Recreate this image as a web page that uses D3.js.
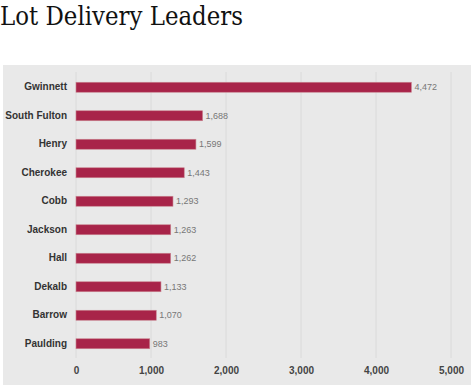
<!DOCTYPE html>
<html>
<head>
<meta charset="utf-8">
<script src="https://cdn.jsdelivr.net/npm/d3@7"></script>
<style>
  body { margin: 0; background: #fff; }
  svg { display: block; }
</style>
</head>
<body>
<div id="chart"></div>
<script>
const counties = ["Gwinnett", "South Fulton", "Henry", "Cherokee", "Cobb", "Jackson", "Hall", "Dekalb", "Barrow", "Paulding"];
const lots = [4472, 1688, 1599, 1443, 1293, 1263, 1262, 1133, 1070, 983];
const xTicks = [0, 1000, 2000, 3000, 4000, 5000];

const layout = {
  width: 471,
  height: 385,
  panelX: 3,
  panelY: 65,
  left: 76,
  right: 451,
  top: 73,
  bottom: 358
};

let svg = d3.select("#chart").append("svg")
  .attr("width", layout.width)
  .attr("height", layout.height);

// title
svg.append("text")
  .attr("x", 0)
  .attr("y", 25)
  .attr("font-family", "'DejaVu Serif', serif")
  .attr("font-size", 26)
  .attr("textLength", 243)
  .attr("lengthAdjust", "spacingAndGlyphs")
  .attr("fill", "#111")
  .text("Lot Delivery Leaders");

// grey panel
svg.append("rect")
  .attr("x", layout.panelX)
  .attr("y", layout.panelY)
  .attr("width", layout.width - layout.panelX)
  .attr("height", layout.height - layout.panelY)
  .attr("fill", "#e9e9e9");

let x = d3.scaleLinear().domain([0, 5000]).range([layout.left, layout.right]);
let y = d3.scaleBand().domain(counties).range([layout.top, layout.bottom])
  .paddingInner(0.65).paddingOuter(0.325);

// gridlines
svg.append("g").selectAll("line").data(xTicks).join("line")
  .attr("x1", d => x(d)).attr("x2", d => x(d))
  .attr("y1", layout.top - 1).attr("y2", layout.bottom)
  .attr("stroke", "#dadada")
  .attr("stroke-width", 1);

// x axis labels
let xAxis = svg.append("g")
  .attr("transform", `translate(0,${layout.bottom})`)
  .call(d3.axisBottom(x).tickValues(xTicks).tickFormat(d3.format(",")).tickSize(0).tickPadding(9));
xAxis.select(".domain").remove();
xAxis.selectAll("text")
  .attr("font-family", "'Liberation Sans', Arial, sans-serif")
  .attr("font-size", 10)
  .attr("font-weight", "bold")
  .attr("fill", "#444");

// y axis labels
let yAxis = svg.append("g")
  .attr("transform", `translate(${layout.left},0)`)
  .call(d3.axisLeft(y).tickSize(0).tickPadding(9));
yAxis.select(".domain").remove();
yAxis.selectAll("text")
  .attr("font-family", "'Liberation Sans', Arial, sans-serif")
  .attr("font-size", 10)
  .attr("font-weight", "bold")
  .attr("fill", "#333");

// bars
svg.append("g").selectAll("rect").data(counties).join("rect")
  .attr("x", x(0))
  .attr("y", (d) => y(d))
  .attr("width", (d, i) => x(lots[i]) - x(0))
  .attr("height", y.bandwidth())
  .attr("fill", "#a82449")
  .attr("stroke", "#c9848f")
  .attr("stroke-width", 0.6);

// value labels
svg.append("g").selectAll("text").data(counties).join("text")
  .attr("x", (d, i) => x(lots[i]) + 3)
  .attr("y", d => y(d) + y.bandwidth() / 2)
  .attr("dy", "0.35em")
  .attr("font-family", "'Liberation Sans', Arial, sans-serif")
  .attr("font-size", 9)
  .attr("fill", "#777")
  .text((d, i) => d3.format(",")(lots[i]));
</script>
</body>
</html>
